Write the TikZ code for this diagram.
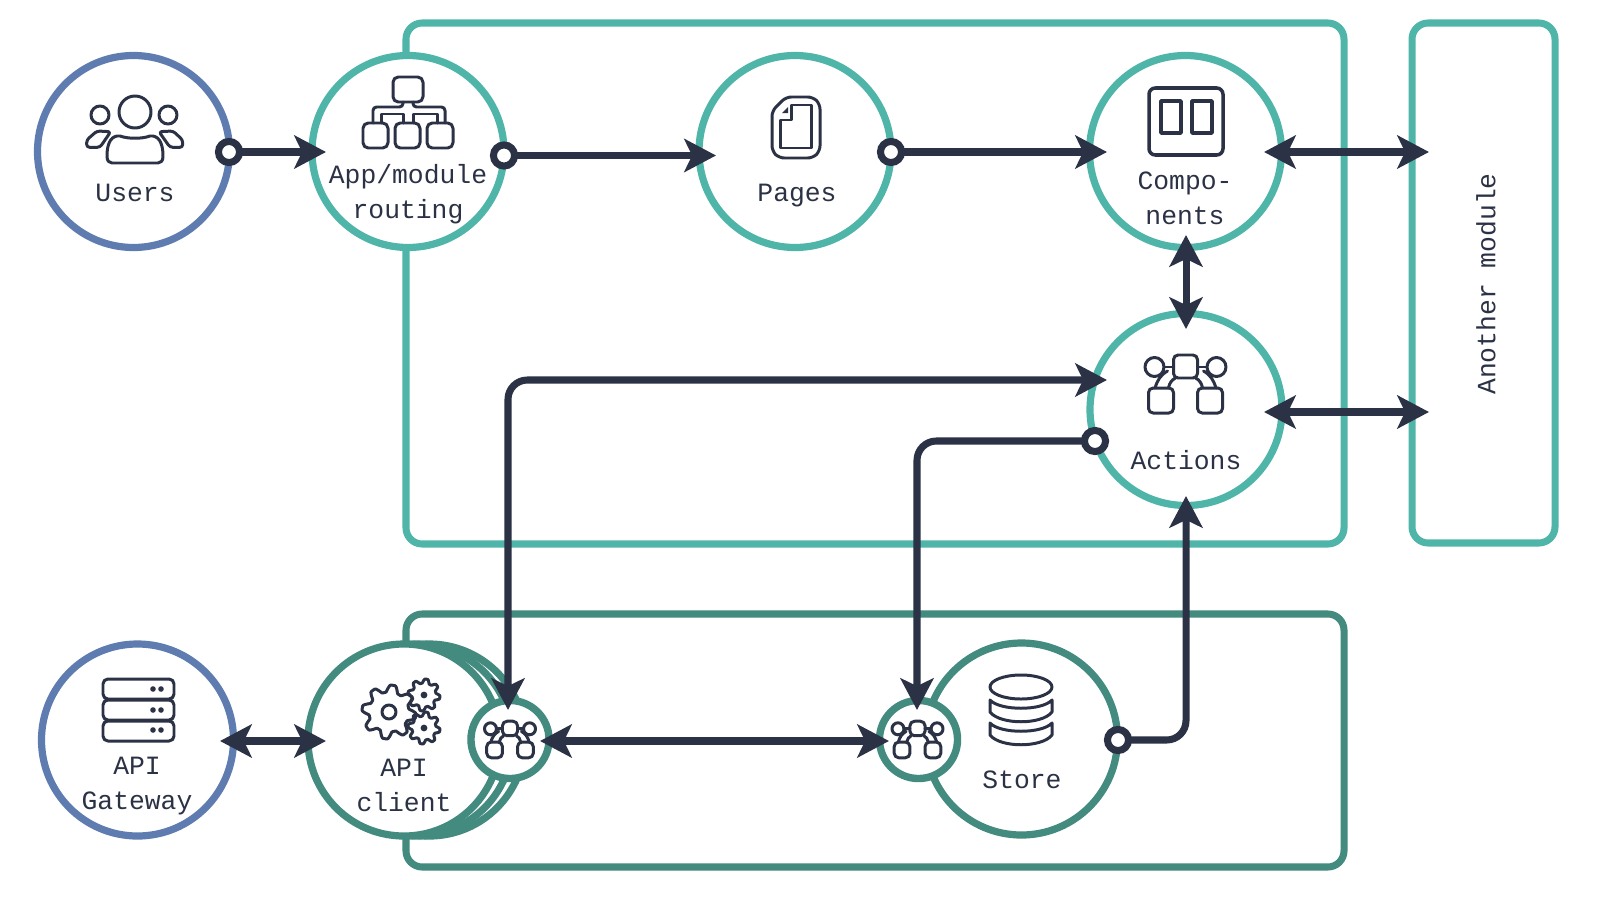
\documentclass[tikz,border=0pt]{standalone}
\usepackage{fontspec}
\setmainfont{Liberation Mono}
\usetikzlibrary{arrows.meta}
\definecolor{ink}{HTML}{2B3245}
\definecolor{teal}{HTML}{50B5A9}
\definecolor{deepteal}{HTML}{438A7F}
\definecolor{slateblue}{HTML}{5F7CB0}
\tikzset{
  x=0.01cm,y=-0.01cm,
  ring/.style={circle,draw=#1,fill=white,line width=2.05pt,minimum size=54.6pt,inner sep=0pt,outer sep=0pt},
  miniring/.style={circle,draw=deepteal,fill=white,line width=2.1pt,minimum size=22.2pt,inner sep=0pt,outer sep=0pt},
  group/.style={draw=#1,line width=2pt,rounded corners=4.6pt},
  dotnode/.style={circle,draw=ink,fill=white,line width=2pt,minimum size=6pt,inner sep=0pt,outer sep=0pt},
  txt/.style={text=ink,font=\fontsize{7.5pt}{10pt}\selectfont,align=center,inner sep=0pt},
  icon/.style={draw=ink,line width=0.85pt,line join=round,line cap=round},
  link/.style={draw=ink,line width=2pt,rounded corners=5.5pt,>={Stealth[length=9pt,width=9.4pt,inset=2.2pt]}},
  flow/.pic={
    \draw[icon,rounded corners=1.3pt] (-12,-29) rectangle (12,-6);
    \draw[icon] (-31,-17) circle (9.5) (31,-17) circle (9.5);
    \draw[icon,rounded corners=1.3pt] (-37,4) rectangle (-12,29) (12,4) rectangle (37,29);
    \draw[icon] (-21.5,-17)--(-12,-17) (12,-17)--(21.5,-17);
    \draw[icon] (-30.5,4) .. controls (-28,-4) and (-25,-9) .. (-18,-13);
    \draw[icon] (-17,4) .. controls (-16,-1) and (-14,-4) .. (-10,-6);
    \draw[icon] (30.5,4) .. controls (28,-4) and (25,-9) .. (18,-13);
    \draw[icon] (17,4) .. controls (16,-1) and (14,-4) .. (10,-6);
  }
}
\newcommand{\gearat}[4]{%
  \draw[icon] plot[smooth,domain=0:360,samples=145] ({#1+(#3+#4*max(-1,min(1,1.4*sin(8*\x+22))))*cos(\x)},{#2+(#3+#4*max(-1,min(1,1.4*sin(8*\x+22))))*sin(\x)}) -- cycle;}
\begin{document}
\begin{tikzpicture}
\useasboundingbox (0,0) rectangle (1600,900);
\fill[white] (0,0) rectangle (1600,900);
% groups
\draw[group=teal] (406,23) rectangle (1344,544);
\draw[group=teal] (1412,23) rectangle (1555,543);
\draw[group=deepteal] (406,614) rectangle (1344,867);
% main circles
\node[ring=slateblue] (users) at (133.5,151.5) {};
\node[ring=teal] (app) at (408,151.5) {};
\node[ring=teal] (pages) at (795,151.5) {};
\node[ring=teal] (comp) at (1185.5,151.5) {};
\node[ring=teal] (actions) at (1186,409.5) {};
\node[ring=slateblue] (gateway) at (137.5,740) {};
\node[ring=deepteal] (clientb) at (429,740) {};
\node[ring=deepteal] (clienta) at (416.5,740) {};
\node[ring=deepteal] (client) at (404,740) {};
\node[ring=deepteal] (store) at (1021.5,739) {};
\node[miniring] (clientflow) at (510,739.5) {};
\node[miniring] (storeflow) at (918.5,739.5) {};
% labels
\node[txt] (usersl) at (135,193) {Users};
\node[txt] (appl) at (408,194.5) {App/module\\routing};
\node[txt] (pagesl) at (797,196) {Pages};
\node[txt] (compl) at (1185,198.5) {Compo-\\nents};
\node[txt] (actionsl) at (1186,460) {Actions};
\node[txt] (gatewayl) at (137,786) {API\\Gateway};
\node[txt] (clientl) at (404,785.5) {API\\client};
\node[txt] (storel) at (1022,780) {Store};
\node[txt,rotate=90] (anotherl) at (1486,284) {Another module};
% users icon
\draw[icon] (135,112) circle (16) (100,115) circle (9) (168,115) circle (9);
\draw[icon] (107,156) .. controls (107,142) and (112,135) .. (120,136) .. controls (128,139) and (142,139) .. (150,136) .. controls (158,135) and (163,142) .. (163,156) .. controls (163,161) and (161,163) .. (158,163) -- (112,163) .. controls (109,163) and (107,161) .. (107,156) -- cycle;
\draw[icon,rounded corners=0.8pt] (110.7,131.7) -- (97,131) -- (86.7,140) -- (86.7,147.3) -- (100,147.3) -- cycle;
\draw[icon,rounded corners=0.8pt] (159,131.7) -- (173,131) -- (182.7,140) -- (182.7,147.3) -- (170,147.3) -- cycle;
% org icon
\draw[icon,rounded corners=1.5pt] (393,77) rectangle (423,102);
\draw[icon,rounded corners=1.5pt] (363,123) rectangle (388,148) (395,123) rectangle (420,148) (427,123) rectangle (453,148);
\draw[icon,rounded corners=1pt] (373,123) -- (373,107) -- (403,107) -- (403,102);
\draw[icon,rounded corners=1pt] (413,102) -- (413,107) -- (445,107) -- (445,123);
\draw[icon] (381,123) -- (381,114) -- (403,114) -- (403,123) (413,123) -- (413,114) -- (437,114) -- (437,123);
% pages icon
\draw[icon,rounded corners=1.5pt] (786,97) -- (813,97) -- (820,104) -- (820,151) -- (813,158) -- (779,158) -- (772,151) -- (772,111) -- cycle;
\draw[icon] (780,120) -- (791,120) -- (791,105) -- (811,105) -- (811,148) -- (780,148) -- cycle;
\fill[ink] (782,113) -- (788,113) -- (788,107) -- cycle;
% components icon
\draw[icon,line width=1pt,rounded corners=1.8pt] (1149,88) rectangle (1223,155);
\draw[icon,line width=1pt] (1161,101) rectangle (1181,133) (1192,101) rectangle (1212,133);
% action icons
\pic at (1185.5,384) {flow};
\pic[scale=0.63] at (510,739.5) {flow};
\pic[scale=0.63] at (917.5,739.5) {flow};
% server icon
\draw[icon,rounded corners=1.4pt] (103,679) rectangle (174,699) (103,700) rectangle (174,720) (103,721) rectangle (174,741);
\foreach \yy in {689,710,730}{\fill[ink] (153,\yy) circle (2.8) (161,\yy) circle (2.8);}
% gears
\gearat{389}{712}{23.5}{3.5}
\draw[icon] (389,712) circle (7);
\gearat{424}{695}{14}{2}
\gearat{424}{728}{14}{2}
\fill[ink] (424,695) circle (3.4) (424,728) circle (3.4);
% database icon
\draw[icon] (1021,687) ellipse (31 and 12);
\draw[icon] (990,700) .. controls (1000,711) and (1042,711) .. (1052,700) -- (1052,712) .. controls (1042,725) and (1000,725) .. (990,712) -- cycle;
\draw[icon] (990,723) .. controls (1000,734) and (1042,734) .. (1052,723) -- (1052,735) .. controls (1042,748) and (1000,748) .. (990,735) -- cycle;
% connector ends
\coordinate (appin) at (326,152);
\coordinate (pagesin) at (716,155.5);
\coordinate (compin) at (1107,152);
\coordinate (compright) at (1264,152);
\coordinate (anotherup) at (1429,152);
\coordinate (compbottom) at (1186,235);
\coordinate (actionstop) at (1186,329);
\coordinate (actionsright) at (1264,412);
\coordinate (anotherdown) at (1429,412);
\coordinate (actionsin) at (1107,380);
\coordinate (actionsbottom) at (1186,496);
\coordinate (clienttop) at (508,710);
\coordinate (storetop) at (917,710);
\coordinate (clientflowr) at (540,741);
\coordinate (storeflowl) at (889,741);
\coordinate (gatewayr) at (220,741);
\coordinate (clientl2) at (326,741);
% dots
\node[dotnode] (usersdot) at (229,152) {};
\node[dotnode] (appdot) at (504,155.5) {};
\node[dotnode] (pagesdot) at (891,152) {};
\node[dotnode] (actionsdot) at (1095,441) {};
\node[dotnode] (storedot) at (1118,740) {};
% connectors
\draw[link,->] (usersdot) -- (appin);
\draw[link,->] (appdot) -- (pagesin);
\draw[link,->] (pagesdot) -- (compin);
\draw[link,<->] (compright) -- (anotherup);
\draw[link,<->] (compbottom) -- (actionstop);
\draw[link,<->] (actionsright) -- (anotherdown);
\draw[link,<->] (clienttop) |- (actionsin);
\draw[link,->] (actionsdot) -| (storetop);
\draw[link,<->] (clientflowr) -- (storeflowl);
\draw[link,->] (storedot) -| (actionsbottom);
\draw[link,<->] (gatewayr) -- (clientl2);
\end{tikzpicture}
\end{document}
